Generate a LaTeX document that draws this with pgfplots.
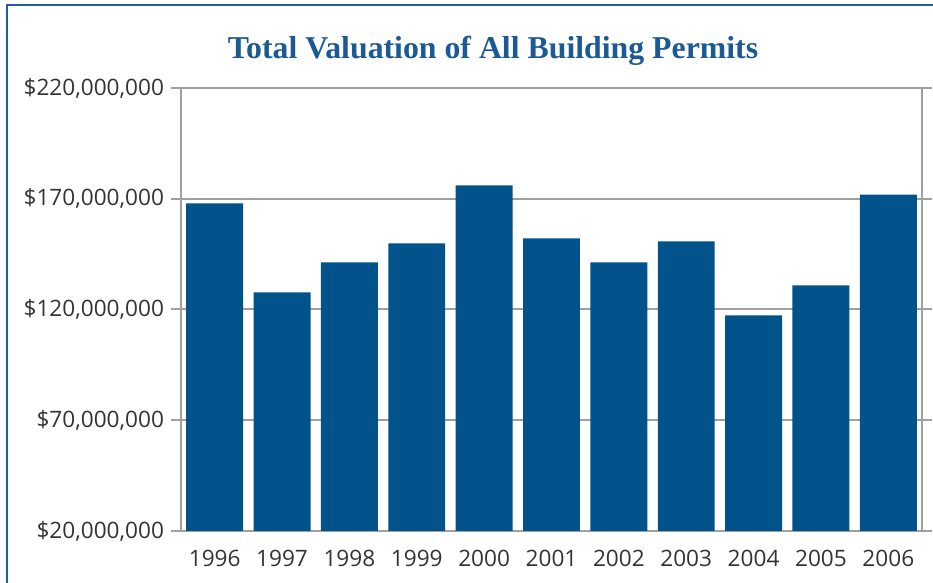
\documentclass[border=0pt]{standalone}
\usepackage{pgfplots}
\pgfplotsset{compat=1.18}
\usepackage{fontspec}
\setmainfont{Open Sans}
\newfontfamily\titlefont{Liberation Serif}
\definecolor{barblue}{HTML}{02538C}
\definecolor{titleblue}{HTML}{1B5A95}
\definecolor{frameblue}{HTML}{1F5FA0}
\definecolor{gridgray}{HTML}{A0A0A0}
\definecolor{ticktext}{HTML}{333333}
\begin{document}
\begin{tikzpicture}[x=0.5pt,y=0.5pt]
\path[use as bounding box] (0,0) rectangle (933,583);
\draw[frameblue, line width=1pt] (7,0) -- (7,578) -- (933,578);
\node[anchor=base, text=titleblue, font=\titlefont\bfseries\fontsize{15.9pt}{18pt}\selectfont] at (493,524) {Total Valuation of All Building Permits};
\begin{axis}[
  at={(90.5pt,26pt)}, anchor=south west,
  scale only axis, width=370.5pt, height=221.5pt,
  xmin=-0.5, xmax=10.5, ymin=20000000, ymax=220000000,
  ybar, bar width=0.845, bar shift=0pt,
  xtick={0,...,10},
  xticklabels={1996,1997,1998,1999,2000,2001,2002,2003,2004,2005,2006},
  ytick={20000000,70000000,120000000,170000000,220000000},
  yticklabels={{\$20,000,000},{\$70,000,000},{\$120,000,000},{\$170,000,000},{\$220,000,000}},
  x tick style={draw=none},
  y tick style={draw=gridgray, line width=1pt},
  tick align=outside, major tick length=5pt,
  ymajorgrids, grid style={draw=gridgray, line width=1pt},
  axis line style={draw=gridgray, line width=1pt},
  ticklabel style={font=\fontsize{11.3pt}{13pt}\selectfont, text=ticktext},
  yticklabel style={xshift=0pt},
  xticklabel style={yshift=-1pt},
  /pgf/number format/assume math mode=true,
  axis on top=false,
  scaled y ticks=false,
]
\addplot[fill=barblue, draw=none] coordinates {
  (0,167900000) (1,127700000) (2,141300000) (3,149800000) (4,176000000)
  (5,152100000) (6,141300000) (7,150700000) (8,117300000) (9,130900000)
  (10,171900000)
};
\end{axis}
\end{tikzpicture}
\end{document}
